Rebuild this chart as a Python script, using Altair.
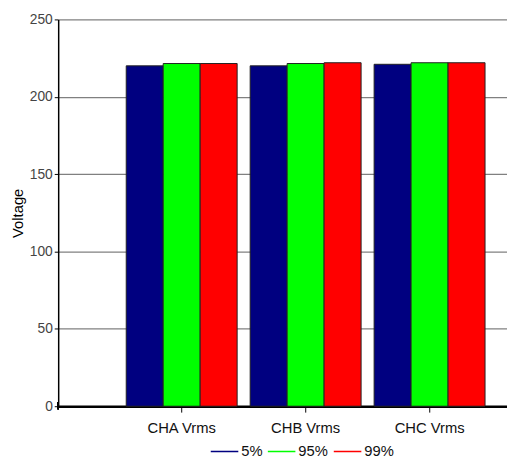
import altair as alt
import pandas as pd

categories = ["CHA Vrms", "CHB Vrms", "CHC Vrms"]
series = ["5%", "95%", "99%"]
values_5 = [220.0, 220.0, 221.0]
values_95 = [221.5, 221.5, 222.0]
values_99 = [221.5, 222.0, 222.0]
colors = ["#000080", "#00ff00", "#ff0000"]

rows = []
for s, vals in zip(series, [values_5, values_95, values_99]):
    for c, v in zip(categories, vals):
        rows.append({"Channel": c, "Series": s, "Voltage": v})
df = pd.DataFrame(rows)

font = "Liberation Sans"

x_enc = alt.X("Channel:N", sort=categories,
              scale=alt.Scale(paddingInner=0.105, paddingOuter=0.363, align=0.756),
              axis=alt.Axis(title=None, labelAngle=0, domainColor="black", domainWidth=2.5,
                            tickColor="black", tickSize=6, labelPadding=9,
                            labelFontSize=15, labelColor="#111111", labelFont=font))
y_enc = alt.Y("Voltage:Q", scale=alt.Scale(domain=[0, 250]),
              axis=alt.Axis(title="Voltage", values=[0, 50, 100, 150, 200, 250],
                            grid=True, gridColor="#808080", gridWidth=1.2,
                            domainColor="black", domainWidth=1.5, tickColor="black",
                            tickSize=4, labelFontSize=14, labelColor="#444444",
                            labelFont=font, titleFont=font, titleFontSize=15,
                            titleFontWeight="normal", titleColor="black", titlePadding=4))

bars = alt.Chart(df).mark_bar(stroke="#222222", strokeWidth=1).encode(
    x=x_enc,
    xOffset=alt.XOffset("Series:N", sort=series, scale=alt.Scale(paddingInner=0, paddingOuter=0)),
    y=y_enc,
    color=alt.Color("Series:N", sort=series, scale=alt.Scale(domain=series, range=colors),
                    legend=alt.Legend(title=None, orient="none", direction="horizontal",
                                      legendX=155, legendY=425,
                                      symbolType="M-1,-0.055H1V0.055H-1Z",
                                      symbolSize=784, symbolStrokeWidth=0,
                                      symbolStrokeColor="transparent",
                                      labelFontSize=15, labelFont=font, labelColor="#111111",
                                      columnPadding=5, labelOffset=3)),
)

stub = alt.Chart(df).mark_rule(color="black", strokeWidth=1.5).encode(
    x=alt.value(0), y=alt.value(389), y2=alt.value(396)
)

chart = alt.layer(bars, stub).properties(
    width=507, height=450,
    autosize=alt.AutoSizeParams(type="fit", contains="padding"),
    padding={"left": 2, "top": 1, "right": 0, "bottom": 19},
).configure_view(stroke=None)

chart.save("out.html", embed_options={"renderer": "svg", "actions": False})
